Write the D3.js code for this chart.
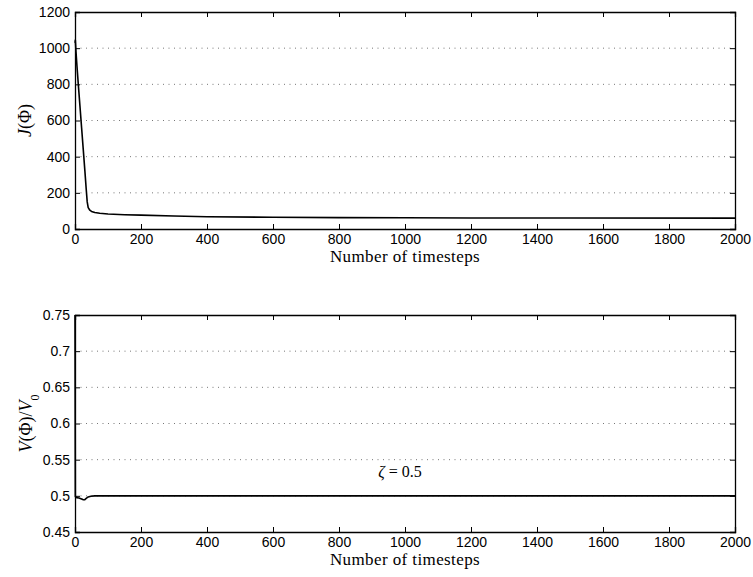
<!DOCTYPE html>
<html>
<head>
<meta charset="utf-8">
<script src="https://cdn.jsdelivr.net/npm/d3@7"></script>
<style>
  body { margin: 0; background: #fff; }
  svg text { fill: #000; }
</style>
</head>
<body>
<div id="chart"></div>
<script>
let width = 753;
let height = 577;

// 数据: J(Phi) vs timesteps
let cost_steps = [0, 1, 3, 6, 10, 15, 20, 25, 30, 34, 37, 40, 45, 50, 60, 75, 100, 150, 200, 300, 400, 600, 800, 1000, 1200, 1500, 2000];
let cost_values = [1030, 1045, 980, 900, 800, 680, 560, 440, 320, 220, 150, 118, 104, 97, 91, 87, 83, 79, 77, 72, 68, 65, 63, 62, 61, 61, 60];

// 数据: V(Phi)/V0 vs timesteps
let vol_steps = [0, 1, 5, 12, 18, 24, 29, 34, 40, 48, 60, 100, 200, 500, 1000, 2000];
let vol_values = [0.75, 0.499, 0.4975, 0.497, 0.496, 0.4948, 0.4945, 0.4965, 0.4985, 0.4995, 0.5, 0.5, 0.5, 0.5, 0.5, 0.5];

let x_ticks = [0, 200, 400, 600, 800, 1000, 1200, 1400, 1600, 1800, 2000];
let cost_ticks = [0, 200, 400, 600, 800, 1000, 1200];
let vol_ticks = [0.45, 0.5, 0.55, 0.6, 0.65, 0.7, 0.75];

let svg = d3.select("#chart").append("svg")
    .attr("width", width)
    .attr("height", height);

let serif = "'Liberation Serif', 'DejaVu Serif', serif";

function drawPanel(opts) {
    let x = d3.scaleLinear().domain([0, 2000]).range([75, 735]);
    let y = d3.scaleLinear().domain(opts.domain).range([opts.bottom, opts.top]);
    let g = svg.append("g");

    // 网格线
    g.selectAll(".grid").data(opts.ticks.slice(1, -1)).enter()
        .append("line")
        .attr("x1", 75).attr("x2", 735)
        .attr("y1", d => y(d)).attr("y2", d => y(d))
        .style("stroke", "#777")
        .style("stroke-width", 1)
        .style("stroke-dasharray", "1,4.5");

    // 曲线
    let line = d3.line().x(d => x(d[0])).y(d => y(d[1]));
    let pts = opts.xs.map((s, i) => [s, opts.ys[i]]);
    g.append("path")
        .datum(pts)
        .attr("d", line)
        .style("fill", "none")
        .style("stroke", "#000")
        .style("stroke-width", 1.6)
        .style("stroke-linejoin", "round");

    // 坐标轴: 刻度朝内
    g.append("g").attr("transform", "translate(0," + opts.bottom + ")")
        .call(d3.axisBottom(x).tickValues(x_ticks).tickSize(-5).tickPadding(5).tickFormat(d3.format("d")));
    g.append("g").attr("transform", "translate(0," + opts.top + ")")
        .call(d3.axisTop(x).tickValues(x_ticks).tickSize(-5).tickFormat(""));
    g.append("g").attr("transform", "translate(75,0)")
        .call(d3.axisLeft(y).tickValues(opts.ticks).tickSize(-5).tickPadding(5).tickFormat(opts.fmt));
    g.append("g").attr("transform", "translate(735,0)")
        .call(d3.axisRight(y).tickValues(opts.ticks).tickSize(-5).tickFormat(""));

    g.selectAll(".domain").style("stroke", "#000").style("stroke-width", 1.3);
    g.selectAll(".tick line").style("stroke", "#000");
    g.selectAll(".tick text")
        .style("font-family", "'Liberation Sans', Arial, sans-serif")
        .style("font-size", "14px");

    // x 标签
    g.append("text")
        .attr("x", 405)
        .attr("y", opts.bottom + 33)
        .attr("text-anchor", "middle")
        .style("font-family", serif)
        .style("font-size", "17px")
        .style("letter-spacing", "0.4px")
        .text("Number of timesteps");

    // y 标签
    let yl = g.append("text")
        .attr("transform", "translate(" + opts.ylx + "," + ((opts.top + opts.bottom) / 2) + ") rotate(-90)")
        .attr("text-anchor", "middle")
        .style("font-family", serif)
        .style("font-size", "18px");
    opts.ylabel(yl);
    return {x: x, y: y, g: g};
}

let top_panel = drawPanel({
    domain: [0, 1200], top: 12, bottom: 229,
    ticks: cost_ticks, xs: cost_steps, ys: cost_values,
    fmt: d3.format("d"), ylx: 31,
    ylabel: t => {
        t.append("tspan").style("font-style", "italic").text("J");
        t.append("tspan").text("(Φ)");
    }
});

let bottom_panel = drawPanel({
    domain: [0.45, 0.75], top: 315, bottom: 532,
    ticks: vol_ticks, xs: vol_steps, ys: vol_values,
    fmt: d => String(+d.toFixed(2)), ylx: 32,
    ylabel: t => {
        t.append("tspan").style("font-style", "italic").text("V");
        t.append("tspan").text("(Φ)/");
        t.append("tspan").style("font-style", "italic").text("V");
        t.append("tspan").attr("baseline-shift", "sub").style("font-size", "12px").text("0");
    }
});

// 注释 zeta = 0.5
let ann = bottom_panel.g.append("text")
    .attr("x", bottom_panel.x(985))
    .attr("y", bottom_panel.y(0.5255))
    .attr("text-anchor", "middle")
    .style("font-family", serif)
    .style("font-size", "16px");
ann.append("tspan").style("font-style", "italic").text("ζ");
ann.append("tspan").text(" = 0.5");
</script>
</body>
</html>
